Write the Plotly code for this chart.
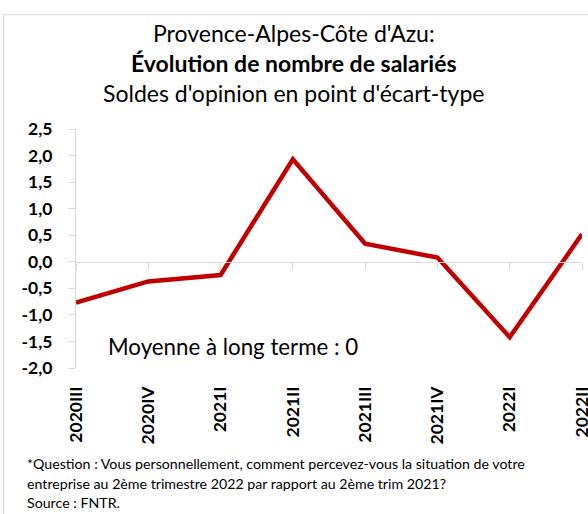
import plotly.graph_objects as go

categories = ["2020III", "2020IV", "2021I", "2021II", "2021III", "2021IV", "2022I", "2022II"]
values = [-0.77, -0.37, -0.25, 1.93, 0.34, 0.08, -1.42, 0.52]
ytick_vals = [2.5, 2.0, 1.5, 1.0, 0.5, 0.0, -0.5, -1.0, -1.5, -2.0]
ytick_text = ["2,5", "2,0", "1,5", "1,0", "0,5", "0,0", "-0,5", "-1,0", "-1,5", "-2,0"]
title_lines = ["Provence-Alpes-Côte d'Azu:", "<b>Évolution de nombre de salariés</b>", "Soldes d'opinion en point d'écart-type"]
note_text = "Moyenne à long terme : 0"
footer_lines = [
    "*Question : Vous personnellement, comment percevez-vous la situation de votre",
    "entreprise au 2ème trimestre 2022 par rapport au 2ème trim 2021?",
    "Source : FNTR.",
]

W, H = 588, 514
L, R, T, B = 76, 6, 129, 145.5
ymin, ymax = -2.0, 2.5
plot_h = H - T - B
plot_w = W - L - R


def py(p):
    return (H - B - p) / plot_h


def px(p):
    return (p - L) / plot_w


FONT = "Lato, Carlito, Calibri, sans-serif"
xi = list(range(len(categories)))

fig = go.Figure()
fig.add_trace(go.Scatter(x=xi, y=values, mode="lines",
                         line=dict(color="#c00000", width=4.5),
                         hoverinfo="skip", showlegend=False, cliponaxis=False))
fig.add_trace(go.Scatter(x=xi, y=values, mode="lines", xaxis="x2",
                         line=dict(color="rgba(0,0,0,0)", width=0),
                         hoverinfo="skip", showlegend=False))

zero_pos = (0 - ymin) / (ymax - ymin)

fig.update_layout(
    width=W, height=H,
    margin=dict(l=L, r=R, t=T, b=B, pad=0, autoexpand=False),
    paper_bgcolor="white", plot_bgcolor="white",
    font=dict(family=FONT, color="black"),
    xaxis=dict(range=[0, len(categories) - 1], tickmode="array", tickvals=xi,
               ticktext=[f"<b>{c}</b>" for c in categories], tickangle=-90,
               tickfont=dict(size=17.5, family=FONT, color="black"),
               showline=False, showgrid=False, zeroline=False, ticks="",
               ticklabelstandoff=14, automargin=False, ticklabeloverflow="allow"),
    xaxis2=dict(range=[0, len(categories) - 1], overlaying="x", anchor="free",
                position=zero_pos, side="bottom", tickmode="array", tickvals=xi,
                showticklabels=False, showline=True, linecolor="#d9d9d9", linewidth=1,
                ticks="outside", ticklen=7, tickcolor="#d9d9d9", tickwidth=1,
                showgrid=False, zeroline=False, automargin=False),
    yaxis=dict(range=[ymin, ymax], tickmode="array", tickvals=ytick_vals,
               ticktext=[f"<b>{t}</b>" for t in ytick_text],
               tickfont=dict(size=17.5, family=FONT, color="black"),
               showline=True, linecolor="#d9d9d9", linewidth=1,
               ticks="outside", ticklen=7, tickcolor="#d9d9d9", tickwidth=1,
               showgrid=False, zeroline=False, ticklabelstandoff=12, automargin=False),
)

annos = []
title_y = [33, 63, 93]
for t, yy in zip(title_lines, title_y):
    annos.append(dict(text=t, xref="paper", yref="paper", x=px(294), y=py(yy),
                      xanchor="center", yanchor="middle", showarrow=False,
                      font=dict(size=23, family=FONT, color="black")))
annos.append(dict(text=note_text, xref="paper", yref="paper", x=px(106), y=py(347),
                  xanchor="left", yanchor="middle", showarrow=False,
                  font=dict(size=22.3, family=FONT, color="black")))
foot_y = [464, 484, 503]
for t, yy in zip(footer_lines, foot_y):
    annos.append(dict(text=t, xref="paper", yref="paper", x=px(25), y=py(yy),
                      xanchor="left", yanchor="middle", showarrow=False,
                      font=dict(size=14.2, family=FONT, color="black")))
fig.update_layout(annotations=annos)

fig.update_layout(shapes=[
    dict(type="line", xref="paper", yref="paper", x0=px(3.5), x1=px(3.5), y0=py(14.5), y1=py(H + 5),
         line=dict(color="#d9d9d9", width=1)),
    dict(type="line", xref="paper", yref="paper", x0=px(3.5), x1=px(W + 5), y0=py(14.5), y1=py(14.5),
         line=dict(color="#d9d9d9", width=1)),
])

fig.write_html("out.html", config={"displayModeBar": False},
               post_script="document.body.style.margin='0';document.body.style.overflow='hidden';")
